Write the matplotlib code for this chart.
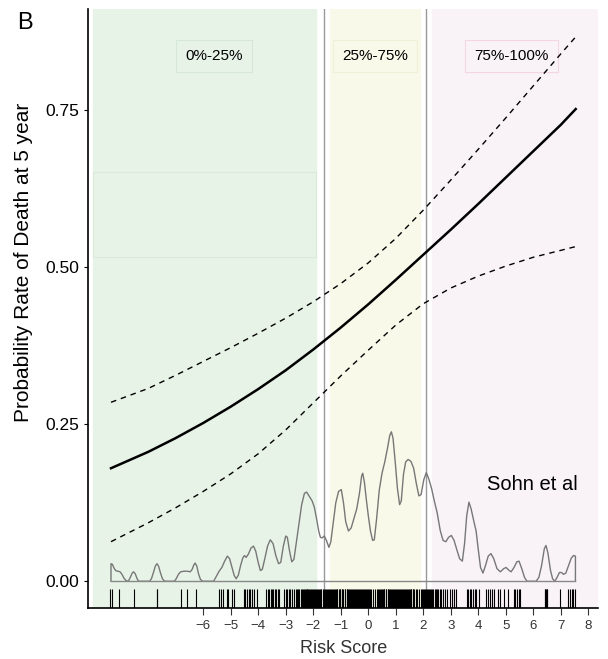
import matplotlib
matplotlib.use("Agg")
import matplotlib.pyplot as plt
from matplotlib.patches import Rectangle

plt.rcParams['font.family'] = ['Liberation Sans', 'DejaVu Sans']

# predicted probability curve and 95% CI
risk_x = [-9.35, -8, -7, -6, -5, -4, -3, -2, -1, 0, 1, 2, 3, 4, 5, 6, 7, 7.54]
prob = [0.180, 0.206, 0.228, 0.252, 0.278, 0.306, 0.336, 0.369, 0.404,
        0.441, 0.480, 0.520, 0.560, 0.601, 0.643, 0.685, 0.727, 0.752]
prob_hi = [0.285, 0.307, 0.328, 0.350, 0.372, 0.395, 0.419, 0.445, 0.474,
           0.507, 0.546, 0.591, 0.639, 0.688, 0.738, 0.789, 0.840, 0.867]
prob_lo = [0.063, 0.093, 0.117, 0.143, 0.171, 0.203, 0.241, 0.284, 0.327,
           0.368, 0.408, 0.442, 0.467, 0.486, 0.502, 0.516, 0.527, 0.533]

# density of risk score (drawn on the probability scale)
dens_x = [-9.35, -9.35, -9.30, -9.24, -9.18, -9.10, -9.02, -8.95, -8.88, -8.80, -8.72,
          -8.65, -8.58, -8.53, -8.47, -8.41, -8.35, -7.95, -7.88, -7.80, -7.74, -7.68,
          -7.62, -7.55, -7.48, -7.40, -7.05, -6.98, -6.90, -6.82, -6.70, -6.57, -6.47,
          -6.40, -6.34, -6.29, -6.23, -6.17, -6.10, -6.02, -5.62, -5.52, -5.42, -5.32,
          -5.22, -5.12, -5.04, -4.95, -4.87, -4.80, -4.72, -4.64, -4.56, -4.50, -4.44,
          -4.36, -4.26, -4.17, -4.09, -4.00, -3.92, -3.85, -3.76, -3.66, -3.56, -3.46,
          -3.36, -3.26, -3.18, -3.09, -3.00, -2.94, -2.86, -2.78, -2.70, -2.62, -2.52,
          -2.42, -2.32, -2.24, -2.14, -2.04, -1.96, -1.88, -1.80, -1.74, -1.68, -1.60,
          -1.52, -1.43, -1.36, -1.28, -1.18, -1.08, -0.98, -0.90, -0.82, -0.72, -0.62,
          -0.52, -0.42, -0.32, -0.24, -0.20, -0.14, -0.07, 0.00, 0.08, 0.16, 0.22,
          0.30, 0.40, 0.50, 0.60, 0.70, 0.78, 0.84, 0.90, 0.98, 1.06, 1.14,
          1.20, 1.28, 1.36, 1.45, 1.55, 1.65, 1.75, 1.84, 1.92, 2.02, 2.11,
          2.20, 2.30, 2.40, 2.50, 2.62, 2.72, 2.82, 2.92, 3.02, 3.12, 3.22,
          3.32, 3.42, 3.50, 3.58, 3.66, 3.74, 3.84, 3.92, 4.00, 4.08, 4.17,
          4.26, 4.36, 4.46, 4.56, 4.68, 4.80, 4.92, 5.01, 5.10, 5.19, 5.30,
          5.40, 5.48, 5.58, 5.68, 5.77, 6.10, 6.20, 6.30, 6.40, 6.46, 6.53,
          6.62, 6.70, 6.78, 6.86, 6.95, 7.02, 7.10, 7.18, 7.28, 7.38, 7.46,
          7.53, 7.53]
dens_y = [0.0, 0.028, 0.027, 0.021, 0.017, 0.016, 0.015, 0.011, 0.005, 0.001, 0.0,
          0.006, 0.013, 0.015, 0.012, 0.005, 0.0, 0.0, 0.004, 0.015, 0.024, 0.028,
          0.024, 0.013, 0.004, 0.0, 0.0, 0.004, 0.011, 0.015, 0.016, 0.016, 0.015,
          0.019, 0.026, 0.029, 0.024, 0.012, 0.003, 0.0, 0.0, 0.008, 0.016, 0.022,
          0.032, 0.040, 0.036, 0.022, 0.009, 0.004, 0.010, 0.025, 0.037, 0.041, 0.038,
          0.043, 0.053, 0.056, 0.048, 0.030, 0.017, 0.019, 0.036, 0.056, 0.066, 0.060,
          0.041, 0.028, 0.030, 0.055, 0.072, 0.070, 0.048, 0.031, 0.035, 0.060, 0.090,
          0.122, 0.140, 0.142, 0.135, 0.128, 0.118, 0.100, 0.080, 0.070, 0.069, 0.072,
          0.065, 0.054, 0.063, 0.090, 0.125, 0.143, 0.146, 0.125, 0.095, 0.080, 0.085,
          0.100, 0.115, 0.140, 0.168, 0.172, 0.158, 0.130, 0.105, 0.080, 0.065, 0.066,
          0.098, 0.145, 0.172, 0.190, 0.212, 0.232, 0.238, 0.228, 0.190, 0.148, 0.122,
          0.128, 0.170, 0.190, 0.194, 0.191, 0.180, 0.155, 0.136, 0.138, 0.162, 0.173,
          0.163, 0.148, 0.128, 0.110, 0.080, 0.065, 0.063, 0.070, 0.073, 0.065, 0.050,
          0.036, 0.032, 0.060, 0.105, 0.126, 0.115, 0.095, 0.080, 0.050, 0.022, 0.013,
          0.025, 0.040, 0.044, 0.036, 0.020, 0.015, 0.020, 0.022, 0.018, 0.015, 0.022,
          0.031, 0.032, 0.020, 0.006, 0.0, 0.0, 0.006, 0.025, 0.052, 0.057, 0.045,
          0.018, 0.004, 0.0, 0.006, 0.014, 0.014, 0.011, 0.013, 0.025, 0.037, 0.041,
          0.040, 0.0]

# individual risk scores (rug)
rug = [-9.38, -9.33, -9.05, -8.52, -7.68, -7.66, -6.80, -6.57, -6.26, -5.42, -5.35,
       -5.28, -5.13, -5.08, -4.97, -4.88, -4.53, -4.47, -4.42, -4.35, -4.28, -4.21,
       -4.14, -4.05, -3.72, -3.66, -3.62, -3.55, -3.50, -3.45, -3.39, -3.34, -3.27,
       -3.23, -3.05, -3.00, -2.95, -2.87, -2.83, -2.78, -2.70, -2.64, -2.59, -2.54,
       -2.50, -2.45, -2.41, -2.37, -2.34, -2.31, -2.28, -2.24, -2.21, -2.18, -2.14,
       -2.11, -2.08, -2.04, -2.01, -1.97, -1.94, -1.90, -1.87, -1.84, -1.80, -1.77,
       -1.73, -1.70, -1.66, -1.62, -1.58, -1.55, -1.51, -1.47, -1.44, -1.40, -1.36,
       -1.33, -1.29, -1.26, -1.22, -1.19, -1.15, -1.12, -1.08, -1.04, -1.01, -0.97,
       -0.94, -0.90, -0.86, -0.83, -0.79, -0.76, -0.72, -0.69, -0.65, -0.61, -0.58,
       -0.54, -0.51, -0.47, -0.44, -0.40, -0.36, -0.33, -0.29, -0.26, -0.22, -0.19,
       -0.15, -0.12, -0.08, -0.05, -0.01, 0.02, 0.06, 0.10, 0.16, 0.24, 0.31,
       0.35, 0.38, 0.42, 0.45, 0.49, 0.52, 0.56, 0.59, 0.63, 0.66, 0.70,
       0.73, 0.77, 0.80, 0.84, 0.87, 0.91, 0.94, 0.98, 1.01, 1.05, 1.08,
       1.12, 1.15, 1.19, 1.22, 1.26, 1.29, 1.33, 1.36, 1.40, 1.43, 1.47,
       1.50, 1.54, 1.57, 1.61, 1.64, 1.68, 1.72, 1.76, 1.83, 1.92, 1.97,
       2.00, 2.04, 2.07, 2.11, 2.14, 2.18, 2.21, 2.25, 2.29, 2.33, 2.37,
       2.41, 2.45, 2.50, 2.55, 2.60, 2.66, 2.72, 2.79, 2.86, 2.98, 3.05,
       3.10, 3.20, 3.59, 3.63, 3.68, 3.74, 3.80, 3.87, 3.93, 4.01, 4.29,
       4.36, 4.42, 4.50, 4.58, 4.70, 4.78, 4.92, 5.07, 5.28, 5.35, 5.42,
       5.48, 5.53, 6.42, 6.44, 6.47, 6.49, 6.51, 6.96, 7.27, 7.33, 7.39,
       7.45, 7.53]

fig = plt.figure(figsize=(6.08, 6.59), dpi=100)
ax = fig.add_axes([0.145, 0.077, 0.839, 0.909])

# risk groups background
ax.axvspan(-9.99, -1.89, color='#e8f3e8', zorder=0)
ax.axvspan(-1.38, 1.89, color='#f8f9e8', zorder=0)
ax.axvspan(2.33, 8.38, color='#f9f3f8', zorder=0)
ax.add_patch(Rectangle((-9.99, 0.516), 8.1, 0.135, facecolor='none',
                       edgecolor='#d9ead9', lw=0.8, zorder=1))
ax.axvline(-1.62, color='#999999', lw=1.0, zorder=1)
ax.axvline(2.11, color='#999999', lw=1.0, zorder=1)

ax.text(-5.6, 0.836, '0%-25%', ha='center', va='center', fontsize=11,
        bbox=dict(boxstyle='square,pad=0.6', fc='#e8f3e8', ec='#d5e8d5', lw=0.8))
ax.text(0.25, 0.836, '25%-75%', ha='center', va='center', fontsize=11,
        bbox=dict(boxstyle='square,pad=0.6', fc='#f8f9e8', ec='#eef0d8', lw=0.8))
ax.text(5.2, 0.836, '75%-100%', ha='center', va='center', fontsize=11,
        bbox=dict(boxstyle='square,pad=0.6', fc='#f9f3f8', ec='#f3d6e2', lw=0.8))

# density + baseline
ax.plot(dens_x, dens_y, color='#777777', lw=1.0, zorder=2)
ax.plot([dens_x[0], dens_x[-1]], [0, 0], color='#888888', lw=1.0, zorder=2)

# curves
ax.plot(risk_x, prob, color='black', lw=1.8, zorder=3)
ax.plot(risk_x, prob_hi, color='black', lw=1.0, ls=(0, (4, 3.5)), zorder=3)
ax.plot(risk_x, prob_lo, color='black', lw=1.0, ls=(0, (4, 3.5)), zorder=3)

# rug
ax.vlines(rug, -0.043, -0.0127, color='black', lw=0.8, zorder=3)

ax.text(5.96, 0.154, 'Sohn et al', ha='center', va='center', fontsize=14.5)

ax.set_xlim(-10.18, 8.36)
ax.set_ylim(-0.043, 0.911)
ax.set_xticks(range(-6, 9))
ax.set_yticks([0, 0.25, 0.5, 0.75])
ax.set_yticklabels(['0.00', '0.25', '0.50', '0.75'])
ax.tick_params(axis='x', labelsize=9.5, length=5, color='#333333', labelcolor='#333333')
ax.tick_params(axis='y', labelsize=12.5, length=3)
for s in ['top', 'right']:
    ax.spines[s].set_visible(False)
ax.spines['left'].set_linewidth(1.2)
ax.spines['bottom'].set_linewidth(1.2)

ax.set_xlabel('Risk Score', fontsize=13, color='#333333', labelpad=6)
ax.set_ylabel('Probability Rate of Death at 5 year', fontsize=15)
ax.yaxis.set_label_coords(-0.108, 0.578)

fig.text(0.028, 0.965, 'B', fontsize=17, ha='left', va='center')

fig.savefig('out.png', dpi=100)
